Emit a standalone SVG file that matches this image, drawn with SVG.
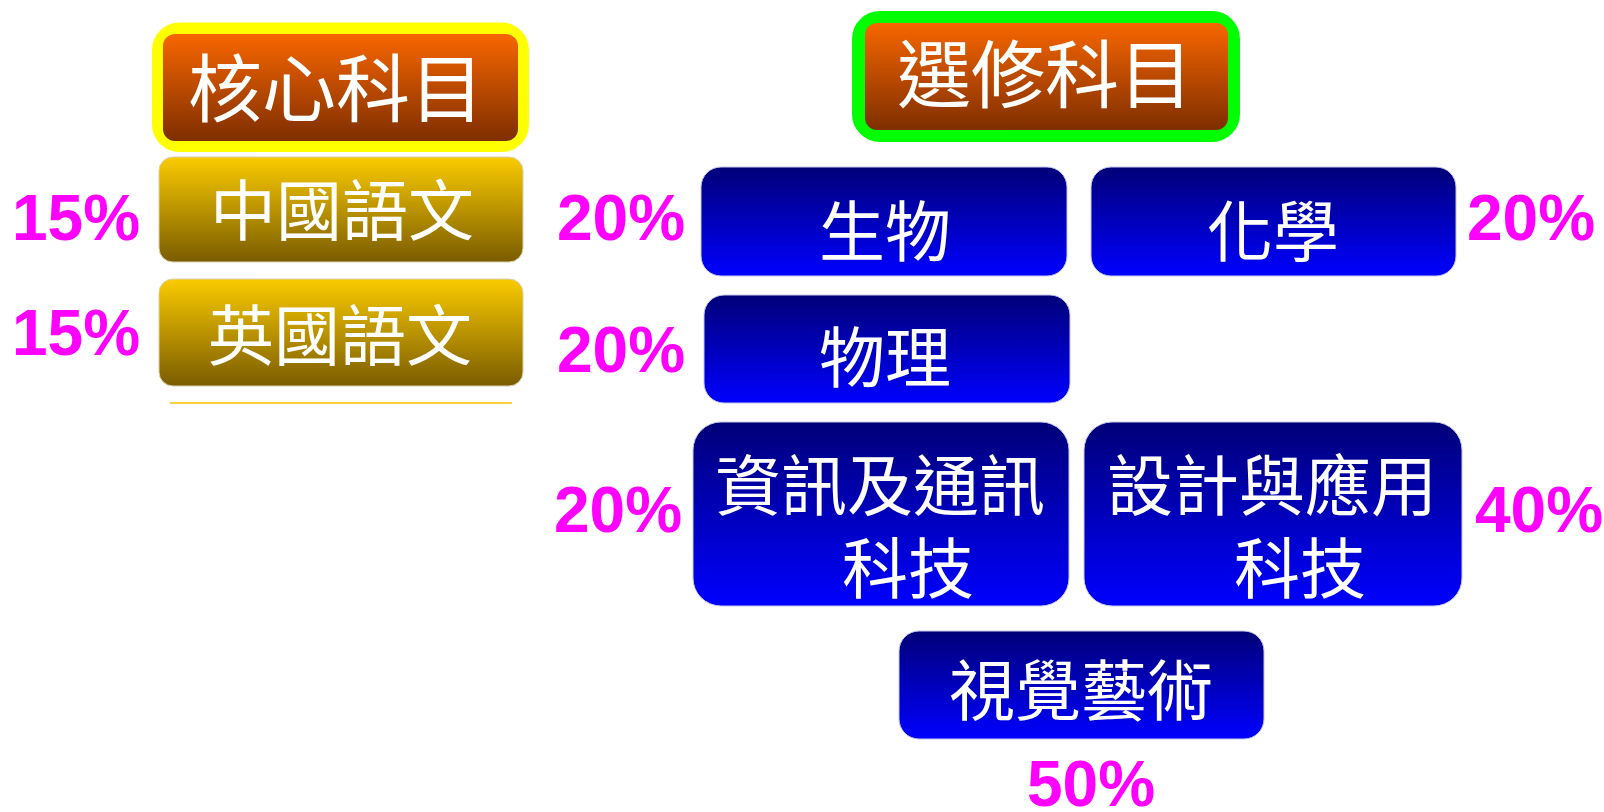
<svg xmlns="http://www.w3.org/2000/svg" width="1604" height="812" viewBox="0 0 1604 812">
<defs>
<linearGradient id="gOrange" x1="0" y1="0" x2="0" y2="1">
<stop offset="0" stop-color="#F86600"/>
<stop offset="1" stop-color="#7E2E00"/>
</linearGradient>
<linearGradient id="gGold" x1="0" y1="0" x2="0" y2="1">
<stop offset="0" stop-color="#FACB00"/>
<stop offset="1" stop-color="#7A5C00"/>
</linearGradient>
<linearGradient id="gBlue" x1="0" y1="0" x2="0" y2="1">
<stop offset="0" stop-color="#000078"/>
<stop offset="1" stop-color="#0000FF"/>
</linearGradient>
<style>
.cjk{font-family:"Noto Sans CJK TC","Noto Sans CJK SC",sans-serif;fill:#ffffff;text-anchor:middle;dominant-baseline:central}
.t{font-size:74px}
.b{font-size:66px}
.pct{font-family:"Liberation Sans",Arial,sans-serif;font-weight:bold;font-size:64px;fill:#FF00FF}
.blue{fill:url(#gBlue);stroke:#c8c8e8;stroke-width:1}
.gold{fill:url(#gGold);stroke:#d8d0b0;stroke-width:1}
</style>
</defs>
<rect width="1604" height="812" fill="#ffffff"/>

<g id="core-title">
<rect x="157.5" y="28" width="366" height="118.5" rx="22" fill="#FFFF00" stroke="#FFFF00" stroke-width="11"/>
<rect x="163" y="34" width="355" height="107" rx="12" fill="url(#gOrange)"/>
<text class="cjk t" x="336" y="83">核心科目</text>
</g>
<g id="chinese">
<rect class="gold" x="159" y="157" width="364" height="105" rx="14"/>
<text class="cjk b" x="342" y="206">中國語文</text>
</g>
<g id="english">
<rect class="gold" x="159" y="279" width="364" height="107" rx="14"/>
<text class="cjk b" x="340" y="331">英國語文</text>
</g>
<g id="clipped">
<rect x="170" y="402" width="342" height="2" fill="#F8D040"/>
</g>

<g id="elective-title">
<rect x="858" y="17" width="376" height="119" rx="22" fill="#00FF00" stroke="#00FF00" stroke-width="12"/>
<rect x="865" y="23" width="363" height="107" rx="12" fill="url(#gOrange)"/>
<text class="cjk t" x="1045" y="69">選修科目</text>
</g>
<g id="biology">
<rect class="blue" x="701" y="167" width="366" height="109" rx="20"/>
<text class="cjk b" x="885" y="227">生物</text>
</g>
<g id="chemistry">
<rect class="blue" x="1091" y="167" width="365" height="109" rx="20"/>
<text class="cjk b" x="1273" y="227">化學</text>
</g>
<g id="physics">
<rect class="blue" x="704" y="295" width="366" height="108" rx="20"/>
<text class="cjk b" x="885" y="353">物理</text>
</g>
<g id="ict">
<rect class="blue" x="693" y="422" width="376" height="184" rx="28"/>
<text class="cjk b" x="880" y="481">資訊及通訊</text>
<text class="cjk b" x="908" y="564">科技</text>
</g>
<g id="dat">
<rect class="blue" x="1084" y="422" width="378" height="184" rx="28"/>
<text class="cjk b" x="1272" y="481">設計與應用</text>
<text class="cjk b" x="1300" y="564">科技</text>
</g>
<g id="visual-arts">
<rect class="blue" x="899" y="631" width="365" height="108" rx="20"/>
<text class="cjk b" x="1081" y="686">視覺藝術</text>
</g>

<g id="connectors"></g>

<g id="labels">
<text class="pct" x="12" y="240">15%</text>
<text class="pct" x="12" y="355">15%</text>
<text class="pct" x="557" y="240">20%</text>
<text class="pct" x="557" y="372">20%</text>
<text class="pct" x="1467" y="240">20%</text>
<text class="pct" x="554" y="532">20%</text>
<text class="pct" x="1475" y="532">40%</text>
<text class="pct" x="1027" y="806">50%</text>
</g>
</svg>
